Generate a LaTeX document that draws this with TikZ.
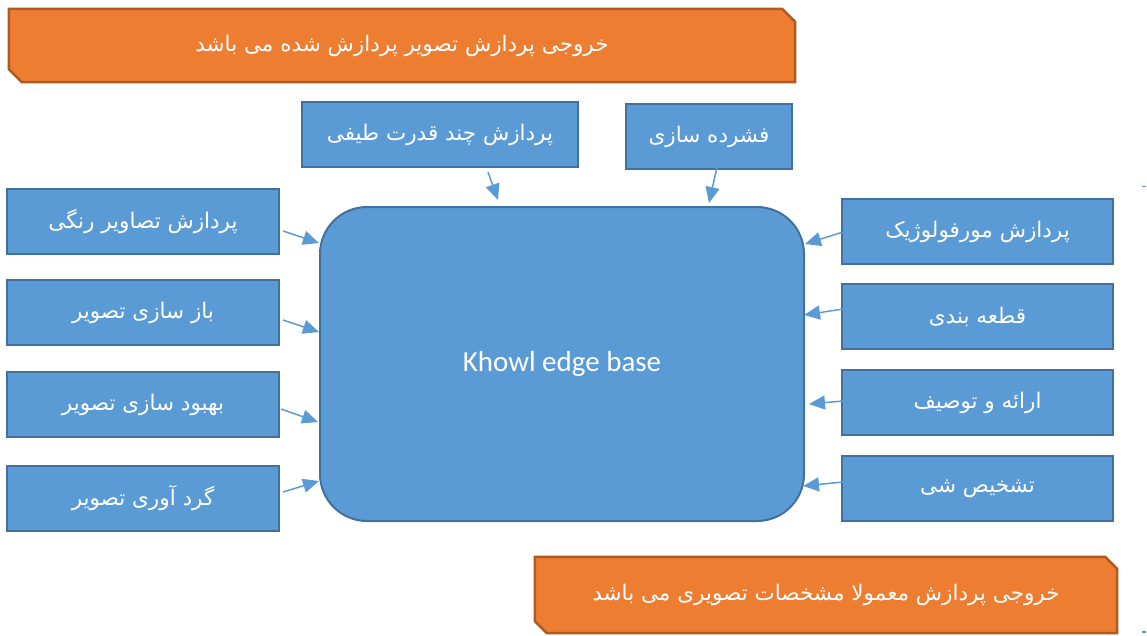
\documentclass[tikz,border=0pt]{standalone}
\usepackage{fontspec}
\usetikzlibrary{arrows.meta,calc}
\TeXXeTstate=1
\newfontfamily\fa[Script=Arabic]{DejaVu Sans}
\newfontfamily\lat{Carlito}
\definecolor{bluefill}{HTML}{5B9BD5}
\definecolor{blueline}{HTML}{41719C}
\definecolor{orfill}{HTML}{ED7D31}
\definecolor{orline}{HTML}{AE5A21}
\tikzset{
  bbox/.style={draw=blueline, fill=bluefill, line width=2pt, rectangle, inner sep=0pt,
    text=white, font=\fa\fontsize{21.5}{25}\selectfont},
  kbox/.style={draw=blueline, fill=bluefill, line width=2pt, rectangle, rounded corners=47pt,
    inner sep=0pt, text=white, font=\lat\fontsize{29}{33}\selectfont},
  otext/.style={rectangle, inner sep=0pt, text=white, font=\fa\fontsize{21.5}{25}\selectfont},
  obanner/.style={draw=orline, fill=orfill, line width=2.5pt, line join=miter},
  arr/.style={draw=bluefill, line width=1.5pt, -{Triangle[length=16pt,width=14pt]}},
  tick/.style={draw=bluefill, line width=1.5pt}
}
\newcommand{\fatext}[1]{\beginR #1\endR}
\begin{document}
\begin{tikzpicture}[x=1pt,y=-1pt]
\useasboundingbox (0,0) rectangle (1147,635);

% top banner
\node[otext, minimum width=786pt, minimum height=73pt] (topb) at (402,45.5) {};
\draw[obanner] (topb.north west) -- ($(topb.north east)+(-13,0)$) -- ($(topb.north east)+(0,13)$)
  -- (topb.south east) -- ($(topb.south west)+(13,0)$) -- ($(topb.south west)+(0,-13)$) -- cycle;
\node[otext] at (topb.center) {\fatext{خروجی پردازش تصویر پردازش شده می باشد}};

% bottom banner
\node[otext, minimum width=582pt, minimum height=76pt] (botb) at (826,595) {};
\draw[obanner] (botb.north west) -- ($(botb.north east)+(-12,0)$) -- ($(botb.north east)+(0,12)$)
  -- (botb.south east) -- ($(botb.south west)+(12,0)$) -- ($(botb.south west)+(0,-12)$) -- cycle;
\node[otext] at (botb.center) {\fatext{خروجی پردازش معمولا مشخصات تصویری می باشد}};

% central
\node[kbox, minimum width=484pt, minimum height=314pt] (kb) at (562,364) {Khowl edge base};

% top boxes
\node[bbox, minimum width=276pt, minimum height=65pt] (ta) at (440,134.5) {\fatext{پردازش چند قدرت طیفی}};
\node[bbox, minimum width=166pt, minimum height=65pt] (tb) at (709,136.5) {\fatext{فشرده سازی}};

% left boxes
\node[bbox, minimum width=272pt, minimum height=65pt] (l1) at (143,221.5) {\fatext{پردازش تصاویر رنگی}};
\node[bbox, minimum width=272pt, minimum height=65pt] (l2) at (143,312.5) {\fatext{باز سازی تصویر}};
\node[bbox, minimum width=272pt, minimum height=65pt] (l3) at (143,404.5) {\fatext{بهبود سازی تصویر}};
\node[bbox, minimum width=272pt, minimum height=65pt] (l4) at (143,498) {\fatext{گرد آوری تصویر}};

% right boxes
\node[bbox, minimum width=271pt, minimum height=65pt] (r1) at (977.5,231.5) {\fatext{پردازش مورفولوژیک}};
\node[bbox, minimum width=271pt, minimum height=65pt] (r2) at (977.5,316.5) {\fatext{قطعه بندی}};
\node[bbox, minimum width=271pt, minimum height=65pt] (r3) at (977.5,402.5) {\fatext{ارائه و توصیف}};
\node[bbox, minimum width=271pt, minimum height=65pt] (r4) at (977.5,488.5) {\fatext{تشخیص شی}};

% arrow end points
\coordinate (l1s) at (283,231); \coordinate (l1e) at (319,243);
\coordinate (l2s) at (283,320); \coordinate (l2e) at (319,332);
\coordinate (l3s) at (281,409); \coordinate (l3e) at (318,422);
\coordinate (l4s) at (283,492); \coordinate (l4e) at (319,481);
\coordinate (r1s) at (843,232); \coordinate (r1e) at (805,244);
\coordinate (r2s) at (843,309); \coordinate (r2e) at (804,315);
\coordinate (r3s) at (843,401); \coordinate (r3e) at (809,404);
\coordinate (r4s) at (843,482); \coordinate (r4e) at (803,486);
\coordinate (tas) at (488,172); \coordinate (tae) at (498,200);
\coordinate (tbs) at (717,167); \coordinate (tbe) at (709,203);

\foreach \a in {l1,l2,l3,l4,r1,r2,r3,r4,ta,tb}
  \draw[arr] (\a s) -- (\a e);

% small marks at right edge
\coordinate (m1a) at (1142,186.5); \coordinate (m1b) at (1146,186.5);
\coordinate (m2a) at (1142,632); \coordinate (m2b) at (1146,632);
\draw[tick] (m1a) -- (m1b);
\draw[tick] (m2a) -- (m2b);
\end{tikzpicture}
\end{document}
